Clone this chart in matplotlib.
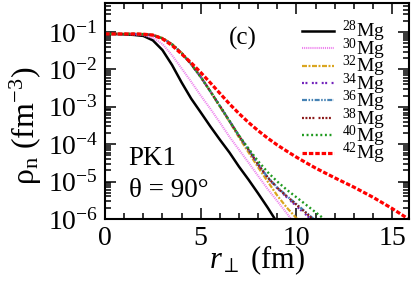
import matplotlib
matplotlib.use("Agg")
import matplotlib.pyplot as plt
from matplotlib.ticker import MultipleLocator, LogLocator, LogFormatterMathtext, NullFormatter

plt.rcParams['font.family'] = ['Liberation Serif', 'DejaVu Serif']
plt.rcParams['mathtext.fontset'] = 'custom'
plt.rcParams['mathtext.rm'] = 'Liberation Serif'
plt.rcParams['mathtext.it'] = 'Liberation Serif:italic'
plt.rcParams['mathtext.bf'] = 'Liberation Serif:bold'
plt.rcParams['mathtext.fallback'] = 'stix'
plt.rcParams['axes.unicode_minus'] = False
plt.rcParams['lines.scale_dashes'] = False

# ---- data ----
r = [0, 0.5, 1, 1.5, 2, 2.5, 3, 3.5, 4, 4.5, 5, 5.5, 6, 6.5, 7, 7.5, 8, 8.5, 9,
     9.5, 10, 10.5, 11, 11.5, 12, 13, 14, 15, 16]

rho_28 = [8.9e-2, 8.9e-2, 8.7e-2, 8.4e-2, 7.9e-2, 6.0e-2, 3.3e-2, 1.32e-2, 4.5e-3,
          1.66e-3, 7.1e-4, 3.0e-4, 1.32e-4, 6.0e-5, 2.5e-5, 1.12e-5, 4.8e-6, 2.0e-6, 7.9e-7]
rho_30 = [8.9e-2, 8.9e-2, 8.9e-2, 8.7e-2, 8.3e-2, 7.0e-2, 4.8e-2, 2.4e-2, 1.07e-2,
          4.7e-3, 2.0e-3, 8.9e-4, 3.8e-4, 1.58e-4, 7.1e-5, 3.2e-5, 1.41e-5, 6.3e-6,
          3.0e-6, 1.41e-6, 6.3e-7]
rho_32 = [9.0e-2, 9.0e-2, 9.0e-2, 9.0e-2, 8.9e-2, 8.5e-2, 7.0e-2, 4.8e-2, 2.8e-2,
          1.4e-2, 6.3e-3, 2.6e-3, 1.0e-3, 4.0e-4, 1.51e-4, 6.0e-5, 2.4e-5, 1.0e-5,
          4.2e-6, 2.0e-6, 1.05e-6, 5.6e-7]
rho_34 = [8.9e-2, 8.9e-2, 8.9e-2, 8.9e-2, 8.8e-2, 8.3e-2, 6.8e-2, 4.7e-2, 2.75e-2,
          1.38e-2, 6.3e-3, 2.6e-3, 1.05e-3, 4.2e-4, 1.66e-4, 7.1e-5, 2.8e-5, 1.26e-5,
          6.6e-6, 3.8e-6, 2.2e-6, 1.3e-6, 7.6e-7]
rho_36 = [8.9e-2, 8.9e-2, 8.9e-2, 8.9e-2, 8.8e-2, 8.3e-2, 6.8e-2, 4.7e-2, 2.75e-2,
          1.38e-2, 6.3e-3, 2.6e-3, 1.05e-3, 4.2e-4, 1.66e-4, 7.1e-5, 2.9e-5, 1.3e-5,
          7.0e-6, 4.1e-6, 2.5e-6, 1.5e-6, 9.0e-7]
rho_38 = [8.9e-2, 8.9e-2, 8.9e-2, 8.9e-2, 8.8e-2, 8.3e-2, 6.8e-2, 4.7e-2, 2.75e-2,
          1.38e-2, 6.3e-3, 2.6e-3, 1.05e-3, 4.2e-4, 1.66e-4, 7.1e-5, 2.85e-5, 1.28e-5,
          6.8e-6, 4.0e-6, 2.4e-6, 1.45e-6, 8.5e-7]
rho_40 = [8.9e-2, 8.9e-2, 8.9e-2, 8.9e-2, 8.8e-2, 8.3e-2, 6.8e-2, 4.7e-2, 2.75e-2,
          1.38e-2, 6.3e-3, 2.6e-3, 1.05e-3, 4.2e-4, 1.7e-4, 7.6e-5, 3.5e-5, 1.78e-5,
          1.0e-5, 6.0e-6, 3.8e-6, 2.4e-6, 1.51e-6, 9.5e-7]
rho_42 = [8.9e-2, 8.9e-2, 8.9e-2, 8.9e-2, 8.8e-2, 8.3e-2, 6.6e-2, 4.4e-2, 2.6e-2,
          1.51e-2, 8.3e-3, 4.4e-3, 2.3e-3, 1.2e-3, 6.6e-4, 3.8e-4, 2.3e-4, 1.45e-4,
          9.5e-5, 6.5e-5, 4.5e-5, 3.2e-5, 2.3e-5, 1.7e-5, 1.26e-5, 7.1e-6, 3.8e-6,
          1.9e-6, 8.9e-7]

labels = [r'$^{28}$Mg', r'$^{30}$Mg', r'$^{32}$Mg', r'$^{34}$Mg',
          r'$^{36}$Mg', r'$^{38}$Mg', r'$^{40}$Mg', r'$^{42}$Mg']
series = [rho_28, rho_30, rho_32, rho_34, rho_36, rho_38, rho_40, rho_42]

# ---- styles ----
colors = ['black', '#EE82EE', '#DAA520', '#7221BC', '#4682B4', '#8B1A1A', '#1E9A1E', '#FF0000']
widths = [1.8, 1.5, 1.6, 1.6, 1.6, 1.6, 1.7, 2.3]
dashes = [None, (0.8, 0.7), (3.6, 1.1, 1.4, 1.1), (1.4, 1.1, 1.4, 3.2),
          (3.6, 1.1, 1.1, 1.1, 1.1, 1.1), (1.4, 1.1, 1.4, 1.1, 1.4, 1.1, 1.4, 3.0),
          (1.4, 1.9), (3.2, 1.4)]

fig = plt.figure(figsize=(4.15, 2.82), dpi=100)
ax = fig.add_axes([0.253, 0.2234, 0.7337, 0.766])

handles = []
for y, c, lw, d, lab in zip(series, colors, widths, dashes, labels):
    line, = ax.plot(r[:len(y)], y, color=c, lw=lw, label=lab)
    if d is not None:
        line.set_dashes(d)
    handles.append(line)

ax.set_yscale('log')
ax.set_xlim(0, 15.9)
ax.set_ylim(1e-6, 0.6)

ax.xaxis.set_major_locator(MultipleLocator(5))
ax.xaxis.set_minor_locator(MultipleLocator(1))
ax.yaxis.set_major_locator(LogLocator(base=10, numticks=20))
ax.yaxis.set_minor_locator(LogLocator(base=10, subs=range(2, 10), numticks=20))
ax.yaxis.set_major_formatter(LogFormatterMathtext())
ax.yaxis.set_minor_formatter(NullFormatter())

ax.tick_params(which='both', direction='in', top=True, right=True, width=1.1)
ax.tick_params(which='major', length=8, labelsize=20, pad=5)
ax.tick_params(which='minor', length=4.3)
for s in ax.spines.values():
    s.set_linewidth(1.5)

ax.set_xlabel(r'$r_{\perp}$ (fm)', fontsize=22)
ax.xaxis.set_label_coords(0.5, -0.19)
ax.xaxis.label.set_va('center')
ax.set_ylabel(r'ρ$_{\rm n}$ (fm$^{-3}$)', fontsize=23)
ax.yaxis.set_label_coords(-0.26, 0.43)
ax.yaxis.label.set_va('center')

ax.text(0.075, 0.25, 'PK1', transform=ax.transAxes, fontsize=19.5, va='baseline')
ax.text(0.08, 0.10, 'θ = 90°', transform=ax.transAxes, fontsize=19.5, va='baseline')
ax.text(0.453, 0.838, '(c)', transform=ax.transAxes, fontsize=18, ha='center', va='center')

ax.legend(handles=handles, loc='upper left', bbox_to_anchor=(0.648, 0.925),
          frameon=False, fontsize=14, handlelength=1.65, handletextpad=0.4,
          labelspacing=-0.40, borderpad=0, borderaxespad=0)

fig.savefig('out.png', dpi=100)
